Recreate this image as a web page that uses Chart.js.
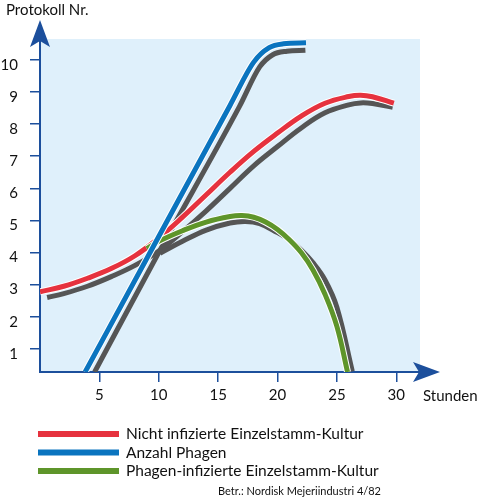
<!DOCTYPE html>
<html>
<head>
<meta charset="utf-8">
<script src="https://cdn.jsdelivr.net/npm/chart.js@4.4.1/dist/chart.umd.min.js"></script>
<style>
  body { margin: 0; background: #fff; }
  #wrap { width: 481px; height: 500px; }
</style>
</head>
<body>
<div id="wrap"><canvas id="myChart" width="481" height="500"></canvas></div>
<script>
// tick labels
const xTicks = [5, 10, 15, 20, 25, 30];
const yTicks = [1, 2, 3, 4, 5, 6, 7, 8, 9, 10];

const seriesNames = ['Nicht infizierte Einzelstamm-Kultur', 'Anzahl Phagen', 'Phagen-infizierte Einzelstamm-Kultur'];

// Nicht infizierte Einzelstamm-Kultur
const xRed = [0, 2, 4, 6, 8, 10, 12, 14, 16, 18, 20, 22, 24, 26, 27, 28, 29.8];
const red = [2.78, 2.95, 3.2, 3.5, 3.9, 4.45, 5.1, 5.8, 6.5, 7.15, 7.72, 8.25, 8.65, 8.86, 8.9, 8.85, 8.65];
const xRedS = [0.6, 2, 4, 6, 8, 10, 12, 14, 16, 18, 20, 22, 24, 26, 27, 28, 29.7];
const redS = [2.6, 2.72, 2.95, 3.25, 3.6, 4.05, 4.65, 5.3, 6.0, 6.7, 7.3, 7.88, 8.35, 8.6, 8.66, 8.64, 8.52];

// Anzahl Phagen
const xBlue = [3.8, 10, 16, 18, 19.3, 20.5, 22.4];
const blue = [0.28, 4.5, 8.58, 9.93, 10.38, 10.5, 10.53];
const xBlueS = [4.6, 10, 16.8, 18.5, 19.6, 20.8, 22.35];
const blueS = [0.28, 4.0, 8.55, 9.78, 10.16, 10.27, 10.3];

// Phagen-infizierte Einzelstamm-Kultur
const xGreen = [9, 10, 12, 14, 16, 17, 18, 19, 20, 21, 22, 23, 24, 25, 25.9];
const green = [4.12, 4.35, 4.68, 4.95, 5.12, 5.15, 5.1, 4.95, 4.72, 4.4, 4.0, 3.45, 2.7, 1.7, 0.28];
const xGreenS = [10.1, 12, 14, 16, 17.3, 18.5, 20, 21, 22, 23, 24, 25, 26.3];
const greenS = [3.98, 4.35, 4.7, 4.92, 4.97, 4.9, 4.62, 4.4, 4.08, 3.68, 3.15, 2.3, 0.3];

const axisColor = '#1c4f9c';
const gray = '#555555';
const colors = ['#e6323e', '#0a74bf', '#5e952a'];
const fontFam = 'Lato, "Open Sans", sans-serif';

function pts(xs, ys) { return xs.map((x, i) => ({ x: x, y: ys[i] })); }

function line(xs, ys, color, width, order, mono, legend) {
  return {
    label: legend || '',
    data: pts(xs, ys),
    borderColor: color,
    borderWidth: width,
    pointRadius: 0,
    tension: 0.4,
    cubicInterpolationMode: mono ? 'monotone' : 'default',
    fill: false,
    order: order,
    isLegend: !!legend
  };
}

const ctx = document.getElementById('myChart').getContext('2d');

const decor = {
  id: 'decor',
  beforeDraw(chart) {
    const a = chart.chartArea, c = chart.ctx;
    c.save();
    c.fillStyle = '#dff0fb';
    c.fillRect(a.left, a.top, a.right - a.left, a.bottom - a.top);
    c.restore();
  },
  afterDraw(chart) {
    const a = chart.chartArea, c = chart.ctx;
    c.save();
    // arrows
    c.fillStyle = axisColor;
    c.strokeStyle = axisColor;
    c.lineWidth = 2;
    c.beginPath();
    c.moveTo(a.left, a.top + 5);
    c.lineTo(a.left, 30);
    c.stroke();
    c.beginPath();
    c.moveTo(a.left, 20);
    c.lineTo(a.left - 10, 47);
    c.lineTo(a.left, 41);
    c.lineTo(a.left + 10, 47);
    c.closePath();
    c.fill();
    c.beginPath();
    c.moveTo(a.right - 5, a.bottom);
    c.lineTo(425, a.bottom);
    c.stroke();
    c.beginPath();
    c.moveTo(440, a.bottom);
    c.lineTo(413, a.bottom - 10);
    c.lineTo(419, a.bottom);
    c.lineTo(413, a.bottom + 10);
    c.closePath();
    c.fill();

    // axis titles
    c.fillStyle = '#111';
    c.font = '15px ' + fontFam;
    c.textBaseline = 'middle';
    c.textAlign = 'left';
    c.fillText('Protokoll Nr.', 6, 10);
    c.fillText('Stunden', 423, 396);

    // legend, in the order of seriesNames
    const items = chart.data.datasets.filter(d => d.isLegend)
      .sort((p, q) => seriesNames.indexOf(p.label) - seriesNames.indexOf(q.label));
    const rowsY = [434, 452.5, 471];
    items.forEach((d, i) => {
      c.fillStyle = d.borderColor;
      c.fillRect(38, rowsY[i] - 3, 81, 6);
      c.fillStyle = '#111';
      c.font = '15.5px ' + fontFam;
      c.fillText(d.label, 126, rowsY[i]);
    });
    c.font = '11px ' + fontFam;
    c.fillText('Betr.: Nordisk Mejeriindustri 4/82', 218, 491);
    c.restore();
  }
};

const myChart = new Chart(ctx, {
  type: 'line',
  data: {
    datasets: [
      line(xRedS, redS, gray, 5, 9, false),
      line(xBlueS, blueS, gray, 5, 9, true),
      line(xGreenS, greenS, gray, 5, 9, false),
      line(xRed, red, '#ffffff', 7, 8, false),
      line(xRed, red, colors[0], 5, 7, false, seriesNames[0]),
      line(xGreen, green, '#ffffff', 7, 6, false),
      line(xGreen, green, colors[2], 5, 5, false, seriesNames[2]),
      line(xBlue, blue, '#ffffff', 7, 4, true),
      line(xBlue, blue, colors[1], 5, 3, true, seriesNames[1])
    ]
  },
  options: {
    responsive: false,
    animation: false,
    layout: { padding: { left: 0, top: 39, right: 61, bottom: 88 } },
    plugins: { legend: { display: false }, tooltip: { enabled: false } },
    scales: {
      x: {
        type: 'linear',
        min: 0,
        max: 32,
        afterBuildTicks: s => { s.ticks = xTicks.map(v => ({ value: v })); },
        afterFit: s => { s.height = 40; },
        grid: { drawOnChartArea: false, tickLength: 10, color: axisColor, lineWidth: 1.5 },
        border: { color: axisColor, width: 2 },
        ticks: { color: '#111', font: { family: fontFam, size: 15 }, padding: 4, maxRotation: 0, autoSkip: false }
      },
      y: {
        min: 0.28,
        max: 10.65,
        afterBuildTicks: s => { s.ticks = yTicks.map(v => ({ value: v })); },
        afterFit: s => { s.width = 40; },
        grid: { drawOnChartArea: false, tickLength: 10, color: axisColor, lineWidth: 1.5 },
        border: { color: axisColor, width: 2 },
        ticks: { color: '#111', font: { family: fontFam, size: 15 }, padding: 12, labelOffset: 5, autoSkip: false }
      }
    }
  },
  plugins: [decor]
});
</script>
</body>
</html>
